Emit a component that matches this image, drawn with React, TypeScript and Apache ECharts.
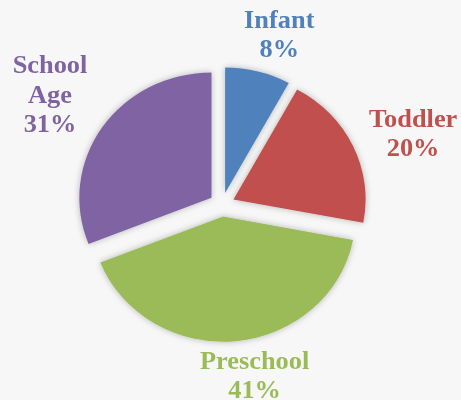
import React, { useEffect, useRef } from "react";
import * as echarts from "echarts";

const categories = ["Infant", "Toddler", "Preschool", "School Age"];
const values = [8, 20, 41, 31];
const colors = ["#4F81BD", "#C0504D", "#9BBB59", "#8064A2"];

// the original picture is slightly stretched horizontally
const STRETCH = 1.055;
const W = 461 / STRETCH;
const H = 400;

export default function App() {
  const ref = useRef<HTMLDivElement>(null);
  useEffect(() => {
    if (!ref.current) return;
    const chart = echarts.init(ref.current, undefined, { renderer: "svg" });
    const cx = 210.4;
    const cy = 204.5;
    const radius = 125.3;
    const fontSize = 25;
    const lineHeight = 29.5;
    const gap = 20;
    // small label nudges to mimic the original label placement
    const nudge = [
      [9, 6],
      [4, 12],
      [14, -8],
      [2, 2],
    ];
    const font = `bold ${fontSize}px "Liberation Serif"`;
    const total = values.reduce((a, b) => a + b, 0);
    const midAngles: number[] = [];
    let acc = 0;
    values.forEach((v) => {
      midAngles.push(((acc + v / 2) / total) * Math.PI * 2);
      acc += v;
    });
    const labelText = (i: number) =>
      `${categories[i].replace(" ", "\n")}\n${values[i]}%`;
    const canvas = document.createElement("canvas");
    const ctx = canvas.getContext("2d")!;
    ctx.font = font;
    const sizes = categories.map((_, i) => {
      const lines = labelText(i).split("\n");
      const w = Math.max(...lines.map((l) => ctx.measureText(l).width));
      return { w: w / 2, h: (lines.length * lineHeight) / 2 };
    });
    chart.setOption({
      animation: false,
      backgroundColor: "#f7f7f7",
      series: [
        {
          type: "pie",
          center: [cx, cy],
          radius: [0, radius],
          startAngle: 90,
          clockwise: true,
          selectedMode: "multiple",
          selectedOffset: 12,
          avoidLabelOverlap: false,
          itemStyle: {
            shadowBlur: 6,
            shadowColor: "rgba(0,0,0,0.28)",
            borderWidth: 0,
          },
          select: { itemStyle: { borderWidth: 0, shadowBlur: 6, shadowColor: "rgba(0,0,0,0.28)" } },
          emphasis: { disabled: true },
          label: { show: false },
          labelLine: { show: false },
          data: categories.map((c, i) => ({
            name: c,
            value: values[i],
            selected: true,
            itemStyle: { color: colors[i] },
            select: { itemStyle: { color: colors[i] } },
          })),
        },
        {
          type: "pie",
          center: [cx, cy],
          radius: [0, radius],
          startAngle: 90,
          clockwise: true,
          silent: true,
          avoidLabelOverlap: false,
          itemStyle: { color: "rgba(0,0,0,0)" },
          emphasis: { disabled: true },
          label: {
            show: true,
            position: "outside",
            fontFamily: "Liberation Serif",
            fontWeight: "bold",
            fontSize,
            lineHeight,
            align: "center",
            formatter: (p: any) => labelText(p.dataIndex),
          },
          labelLine: { show: false },
          labelLayout: (p: any) => {
            const i = p.dataIndex;
            const a = midAngles[i];
            const { w, h } = sizes[i];
            const d = radius + gap + Math.abs(Math.sin(a)) * w + Math.abs(Math.cos(a)) * h;
            return {
              x: cx + Math.sin(a) * d + nudge[i][0],
              y: cy - Math.cos(a) * d + nudge[i][1],
              align: "center",
              verticalAlign: "middle",
            };
          },
          data: categories.map((c, i) => ({
            name: c,
            value: values[i],
            itemStyle: { color: "rgba(0,0,0,0)" },
            label: { color: colors[i] },
          })),
        },
      ],
    });
    return () => chart.dispose();
  }, []);
  return (
    <div
      style={{
        position: "absolute",
        left: 0,
        top: 0,
        width: 461,
        height: H,
        overflow: "hidden",
        background: "#f7f7f7",
      }}
    >
      <div
        ref={ref}
        style={{
          width: W,
          height: H,
          transform: `scaleX(${STRETCH})`,
          transformOrigin: "0 0",
        }}
      />
    </div>
  );
}
